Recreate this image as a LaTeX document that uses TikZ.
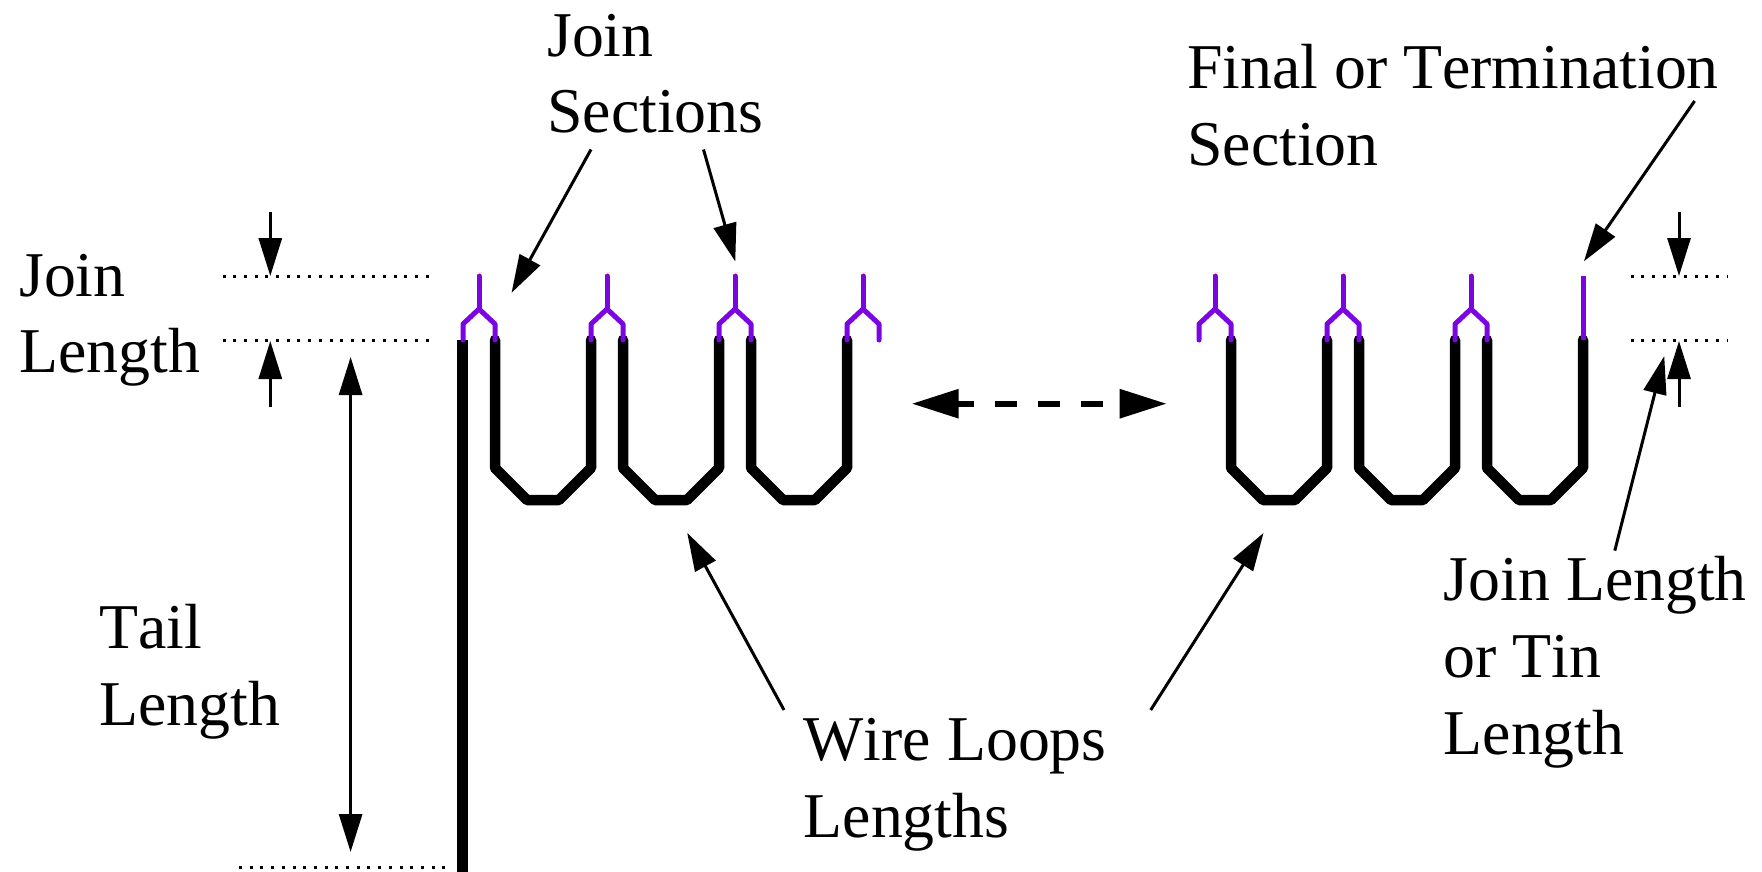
\documentclass[tikz,border=0pt]{standalone}
\usepackage{fontspec}
\setmainfont[Kerning=Off]{Liberation Serif}
\usetikzlibrary{arrows.meta}
\definecolor{joinpurple}{HTML}{7B04E0}
\tikzset{
  x=1pt,y=-1pt,
  lbl/.style={anchor=base west,inner sep=0pt,font=\fontsize{63.8}{76}\selectfont},
  wire/.style={line width=10.5pt,line cap=round,line join=round,black},
  tailwire/.style={line width=10.5pt,black},
  joinwire/.style={line width=5pt,line cap=round,line join=round,joinpurple},
  dots/.style={line width=3pt,dash pattern=on 3pt off 7.7pt},
  arr/.style={line width=3pt,-{Triangle[length=38pt,width=23pt]},shorten >=-1pt},
  arrboth/.style={line width=3pt,{Triangle[length=38pt,width=23pt]}-{Triangle[length=38pt,width=23pt]}},
  dasharr/.style={line width=6pt,dash pattern=on 22pt off 21pt,dash phase=5pt,{Triangle[length=47pt,width=28pt]}-{Triangle[length=47pt,width=28pt]}},
}
\newcommand{\wireloop}[1]{%
  \draw[wire] (#1,340) -- (#1,468) -- (#1+32,500) -- (#1+64,500) -- (#1+96,468) -- (#1+96,340);}
\newcommand{\joinfork}[1]{%
  \draw[joinwire] (#1,340) -- (#1,324) -- (#1+16,309) -- (#1+32,324) -- (#1+32,340);
  \draw[joinwire] (#1+16,309) -- (#1+16,276);}
\begin{document}
\begin{tikzpicture}
\useasboundingbox (0,0) rectangle (1762,872);
% labels
\node[lbl] (joinsec1) at (547,57) {Join};
\node[lbl] (joinsec2) at (547,133) {Sections};
\node[lbl] (final1) at (1187,89) {Final or Termination};
\node[lbl] (final2) at (1187,165) {Section};
\node[lbl] (jl1) at (19,296) {Join};
\node[lbl] (jl2) at (19,372) {Length};
\node[lbl] (tail1) at (99,648) {Tail};
\node[lbl] (tail2) at (99,725) {Length};
\node[lbl] (wl1) at (803.5,760) {Wire Loops};
\node[lbl] (wl2) at (803.5,837) {Lengths};
\node[lbl] (tin1) at (1443.5,600) {Join Length};
\node[lbl] (tin2) at (1443.5,677) {or Tin};
\node[lbl] (tin3) at (1443.5,754) {Length};
% wires
\draw[tailwire] (462.7,340) -- (462.7,872);
\foreach \a in {495,623,751,1231,1359,1487} {\wireloop{\a}}
\foreach \a in {463,591,719,847,1199,1327,1455} {\joinfork{\a}}
\draw[joinwire,line cap=butt] (1583,276) -- (1583,340);
% dotted guide lines
\draw[dots] (222.5,276) -- (429,276);
\draw[dots] (222.5,340) -- (429,340);
\draw[dots] (1630.5,276) -- (1728,276);
\draw[dots] (1630.5,340) -- (1728,340);
\draw[dots] (239,867.5) -- (446,867.5);
% arrow ends
\coordinate (a1s) at (270.3,212); \coordinate (a1e) at (270.3,275);
\coordinate (a2s) at (270.3,407); \coordinate (a2e) at (270.3,342);
\coordinate (a3s) at (1679,212); \coordinate (a3e) at (1679,275);
\coordinate (a4s) at (1679,407); \coordinate (a4e) at (1679,342);
\coordinate (t1) at (350.6,357); \coordinate (t2) at (350.6,852);
\coordinate (d1) at (911.7,403.7); \coordinate (d2) at (1166.7,403.7);
\coordinate (s1s) at (591,149.5); \coordinate (s1e) at (512,292);
\coordinate (s2s) at (703.5,149.5); \coordinate (s2e) at (735,260.5);
\coordinate (fs) at (1694.6,101); \coordinate (fe) at (1584.5,260.5);
\coordinate (tins) at (1614.8,550.6); \coordinate (tine) at (1664,357);
\coordinate (w1s) at (784,710); \coordinate (w1e) at (687.7,533.8);
\coordinate (w2s) at (1150.7,710); \coordinate (w2e) at (1263,533.8);
\foreach \p/\q in {a1s/a1e,a2s/a2e,a3s/a3e,a4s/a4e,s1s/s1e,s2s/s2e,fs/fe,tins/tine,w1s/w1e,w2s/w2e}
  {\draw[arr] (\p) -- (\q);}
\draw[arrboth] (t1) -- (t2);
\draw[dasharr] (d1) -- (d2);
\end{tikzpicture}
\end{document}
